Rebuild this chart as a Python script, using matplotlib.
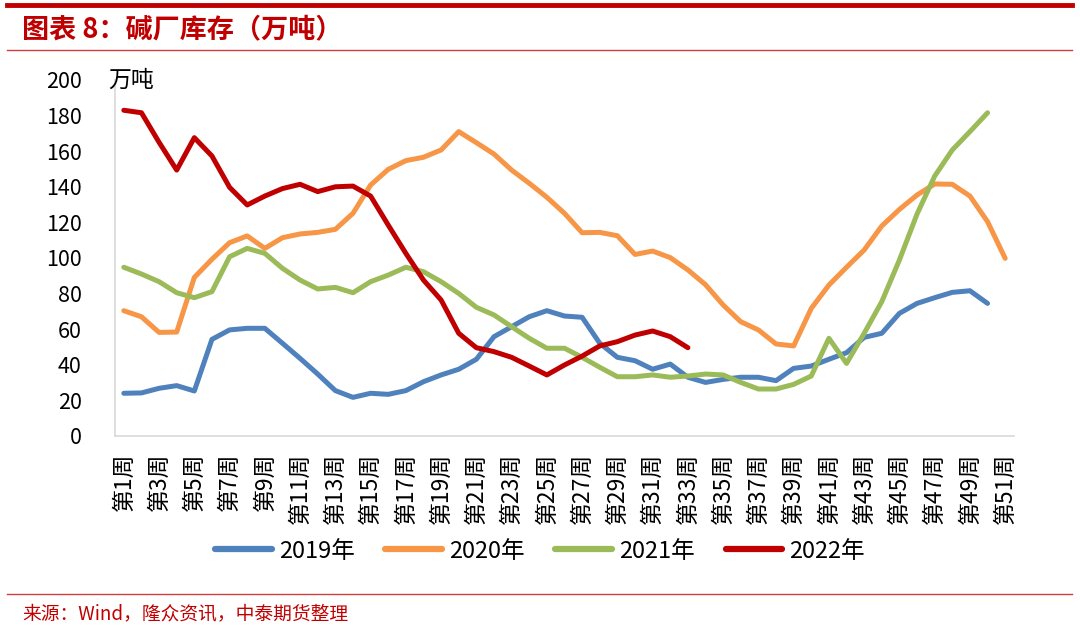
import matplotlib
matplotlib.use("Agg")
import matplotlib.pyplot as plt
from matplotlib.lines import Line2D

plt.rcParams['font.family'] = ['Noto Sans CJK SC', 'DejaVu Sans']

weeks = [f"第{i}周" for i in range(1, 52)]

s2019 = [24.0, 24.2, 26.8, 28.3, 25.3, 54.3, 59.6, 60.5, 60.5, 52.1,
         43.6, 34.8, 25.5, 21.7, 24.0, 23.4, 25.5, 30.5, 34.3, 37.5,
         43.1, 55.8, 61.4, 67.0, 70.4, 67.4, 66.7, 52.1, 44.2, 42.3,
         37.5, 40.4, 33.0, 30.1, 31.8, 33.0, 33.0, 31.1, 38.0, 39.3,
         43.1, 46.8, 55.4, 57.7, 68.9, 74.5, 77.7, 80.7, 81.6, 74.5]
s2020 = [70.4, 67.0, 58.2, 58.4, 89.1, 99.3, 108.6, 112.4, 105.4, 111.4,
         113.5, 114.4, 116.1, 125.1, 141.0, 149.8, 154.7, 156.6, 160.7, 171.0,
         164.8, 158.4, 149.4, 142.0, 134.1, 125.1, 114.2, 114.4, 112.5, 102.0,
         103.9, 100.2, 93.3, 85.0, 73.6, 64.2, 59.6, 51.7, 50.6, 71.7,
         84.8, 94.8, 104.5, 118.0, 127.3, 135.4, 141.6, 141.4, 134.8, 120.4,
         99.8]
s2021 = [94.8, 91.0, 86.7, 80.5, 77.7, 81.1, 100.7, 105.4, 102.6, 94.2,
         87.6, 82.6, 83.5, 80.5, 86.7, 90.4, 94.8, 92.3, 86.7, 80.1,
         72.3, 68.0, 61.4, 54.9, 49.3, 49.3, 44.2, 38.6, 33.3, 33.3,
         34.3, 33.0, 33.7, 34.8, 34.3, 30.1, 26.4, 26.4, 29.0, 33.7,
         54.9, 40.8, 57.7, 75.5, 98.9, 124.7, 146.0, 160.7, 171.0, 181.6]
s2022 = [183.0, 181.6, 165.0, 149.4, 167.6, 157.3, 139.7, 129.8, 134.8, 139.0,
         141.4, 137.3, 140.0, 140.4, 134.8, 118.5, 102.6, 87.6, 76.4, 57.7,
         49.6, 47.4, 44.2, 39.3, 34.3, 39.9, 44.9, 50.6, 53.0, 56.7,
         59.0, 55.8, 49.6]

series = [("2019年", s2019, "#4F81BD"),
          ("2020年", s2020, "#F79646"),
          ("2021年", s2021, "#9BBB59"),
          ("2022年", s2022, "#C00000")]

fig = plt.figure(figsize=(10.8, 6.32), dpi=100)
W, H = 1080, 632
ax = fig.add_axes([115 / W, 1 - 436 / H, (1014 - 115) / W, (436 - 80) / H])

for name, vals, col in series:
    ax.plot(range(len(vals)), vals, color=col, lw=3.6, label=name,
            solid_capstyle='round', solid_joinstyle='round')

ax.set_xlim(-0.5, len(weeks) - 0.5)
ax.set_ylim(0, 200)
ax.set_yticks(range(0, 201, 20))
ax.set_xticks(range(0, len(weeks), 2))
ax.set_xticklabels(weeks[::2], rotation=90, fontsize=16.5, va='top')
ax.tick_params(axis='both', length=0, colors='#000000')
ax.tick_params(axis='y', labelsize=15.5, pad=24)
ax.tick_params(axis='x', pad=12)
for sp in ['top', 'right']:
    ax.spines[sp].set_visible(False)
for sp in ['left', 'bottom']:
    ax.spines[sp].set_color('#D9D9D9')
    ax.spines[sp].set_linewidth(1.2)

ax.text(108 / W, 1 - 80 / H, "万吨", transform=fig.transFigure, fontsize=16.5,
        ha='left', va='center')

handles = [Line2D([0], [0], color=c, lw=4.5, solid_capstyle='round') for _, _, c in series]
fig.legend(handles, [n for n, _, _ in series], loc='center',
           bbox_to_anchor=(540 / W, 1 - 551 / H), ncol=4, frameon=False,
           fontsize=17, handlelength=2.4, columnspacing=1.3, handletextpad=0.3)

# header / footer decoration
red = "#C00000"
fig.add_artist(Line2D([7 / W, 1072 / W], [1 - 5 / H, 1 - 5 / H], color=red, lw=3.5,
                      transform=fig.transFigure))
fig.add_artist(Line2D([7 / W, 1072 / W], [1 - 50 / H, 1 - 50 / H], color="#D04040", lw=1.0,
                      transform=fig.transFigure))
fig.add_artist(Line2D([7 / W, 1072 / W], [1 - 594 / H, 1 - 594 / H], color="#D04040", lw=1.0,
                      transform=fig.transFigure))
fig.text(22 / W, 1 - 29 / H, "图表 8：碱厂库存（万吨）", color=red, fontsize=19.5,
         fontweight='bold', fontstyle='italic', ha='left', va='center')
fig.text(22 / W, 1 - 614 / H, "来源：Wind，隆众资讯，中泰期货整理", color=red, fontsize=13.5,
         ha='left', va='center')

fig.savefig("out.png", dpi=100)
